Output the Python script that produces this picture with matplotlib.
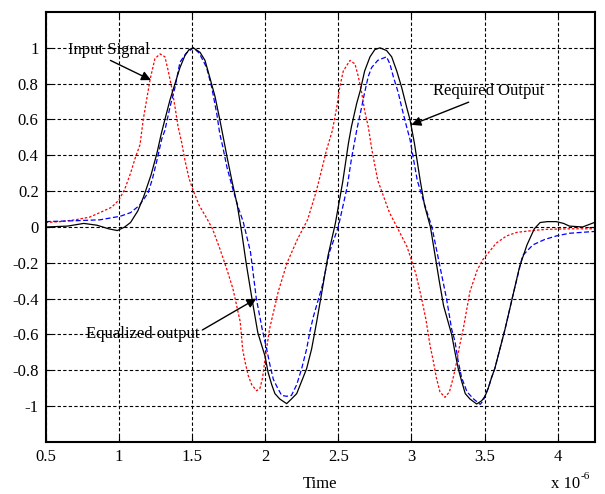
import matplotlib
matplotlib.use("Agg")
import matplotlib.pyplot as plt

# time axis in units of 1e-6 s
red_t = [0.5, 0.6, 0.7, 0.8, 0.87, 0.95, 1.0, 1.04, 1.08, 1.11, 1.145, 1.167, 1.19, 1.213,
         1.224, 1.247, 1.282, 1.315, 1.338, 1.361, 1.384, 1.405, 1.43, 1.45, 1.48, 1.51, 1.55,
         1.60, 1.64, 1.69, 1.74, 1.78, 1.83, 1.846, 1.862, 1.885, 1.908, 1.942, 1.965, 1.983,
         1.994, 2.01, 2.03, 2.09, 2.15, 2.22, 2.29, 2.35, 2.42, 2.46, 2.49, 2.51, 2.534, 2.58,
         2.614, 2.637, 2.66, 2.68, 2.705, 2.73, 2.77, 2.85, 2.92, 2.97, 3.03, 3.07, 3.10, 3.127,
         3.15, 3.17, 3.195, 3.229, 3.26, 3.286, 3.31, 3.33, 3.354, 3.40, 3.45, 3.49, 3.58, 3.65,
         3.72, 3.85, 3.93, 4.1, 4.25]
red_v = [0.025, 0.03, 0.04, 0.055, 0.08, 0.11, 0.15, 0.21, 0.30, 0.38, 0.46, 0.60, 0.71, 0.82,
         0.86, 0.94, 0.966, 0.95, 0.87, 0.78, 0.67, 0.56, 0.47, 0.38, 0.27, 0.2, 0.12,
         0.05, -0.01, -0.12, -0.24, -0.345, -0.53, -0.68, -0.75, -0.83, -0.88, -0.914, -0.90, -0.84,
         -0.77, -0.68, -0.57, -0.36, -0.2, -0.07, 0.04, 0.20, 0.43, 0.54, 0.67, 0.78, 0.87, 0.93,
         0.91, 0.84, 0.75, 0.65, 0.56, 0.43, 0.26, 0.08, -0.03, -0.11, -0.26, -0.4, -0.52, -0.66,
         -0.75, -0.84, -0.92, -0.951, -0.92, -0.84, -0.75, -0.66, -0.57, -0.36, -0.24, -0.18, -0.09, -0.05,
         -0.03, -0.018, -0.013, -0.01, -0.01]

black_t = [0.5, 0.65, 0.76, 0.85, 0.93, 0.99, 1.04, 1.08, 1.13, 1.17, 1.22, 1.26, 1.29, 1.315,
           1.35, 1.384, 1.418, 1.452, 1.48, 1.509, 1.555, 1.589, 1.62, 1.657, 1.69, 1.714, 1.74,
           1.775, 1.81, 1.84, 1.87, 1.91, 1.95, 1.999, 2.02, 2.045, 2.067, 2.10, 2.147, 2.18,
           2.216, 2.25, 2.284, 2.318, 2.35, 2.38, 2.43, 2.48, 2.53, 2.57, 2.59, 2.626, 2.65,
           2.68, 2.717, 2.75, 2.785, 2.83, 2.865, 2.90, 2.933, 2.967, 2.99, 3.02, 3.06, 3.09,
           3.13, 3.16, 3.19, 3.22, 3.275, 3.298, 3.32, 3.343, 3.368, 3.40, 3.446, 3.48, 3.503,
           3.525, 3.548, 3.57, 3.605, 3.64, 3.70, 3.74, 3.79, 3.84, 3.88, 3.93, 3.99, 4.04,
           4.08, 4.17, 4.25]
black_v = [0.0, 0.005, 0.02, 0.01, -0.01, -0.02, 0.0, 0.025, 0.09, 0.17, 0.29, 0.41, 0.52, 0.60,
           0.71, 0.80, 0.89, 0.957, 0.99, 1.0, 0.975, 0.93, 0.84, 0.73, 0.60, 0.50, 0.39,
           0.25, 0.12, -0.03, -0.2, -0.40, -0.59, -0.72, -0.81, -0.88, -0.93, -0.96, -0.986, -0.96,
           -0.93, -0.86, -0.79, -0.68, -0.54, -0.40, -0.16, 0.02, 0.25, 0.47, 0.56, 0.69, 0.76,
           0.87, 0.95, 0.99, 1.0, 0.985, 0.95, 0.87, 0.78, 0.67, 0.60, 0.47, 0.26, 0.12,
           0.0, -0.15, -0.3, -0.44, -0.60, -0.70, -0.79, -0.86, -0.93, -0.96, -0.988, -0.97, -0.945,
           -0.90, -0.84, -0.79, -0.68, -0.57, -0.36, -0.22, -0.1, -0.01, 0.025, 0.03, 0.03, 0.02,
           0.005, 0.0, 0.025]

blue_t = [0.5, 0.7, 0.87, 1.01, 1.08, 1.14, 1.20, 1.23, 1.26, 1.293, 1.315, 1.35, 1.384, 1.418,
          1.46, 1.51, 1.55, 1.60, 1.635, 1.67, 1.69, 1.71, 1.74, 1.78, 1.82, 1.85, 1.90, 1.94,
          1.98, 2.01, 2.033, 2.056, 2.08, 2.113, 2.147, 2.18, 2.216, 2.25, 2.284, 2.307, 2.33,
          2.39, 2.44, 2.50, 2.56, 2.59, 2.626, 2.66, 2.68, 2.705, 2.728, 2.77, 2.83, 2.853, 2.876,
          2.91, 2.933, 2.967, 2.99, 3.04, 3.10, 3.14, 3.17, 3.24, 3.275, 3.298, 3.32, 3.343,
          3.38, 3.425, 3.47, 3.49, 3.525, 3.548, 3.57, 3.605, 3.64, 3.70, 3.76, 3.83, 3.91,
          3.99, 4.08, 4.25]
blue_v = [0.03, 0.035, 0.04, 0.06, 0.08, 0.12, 0.19, 0.27, 0.37, 0.49, 0.54, 0.67, 0.78, 0.92,
          0.97, 1.0, 0.97, 0.89, 0.78, 0.63, 0.52, 0.45, 0.33, 0.21, 0.1, 0.03, -0.14, -0.40,
          -0.57, -0.68, -0.77, -0.85, -0.89, -0.94, -0.945, -0.94, -0.88, -0.79, -0.68, -0.58, -0.50,
          -0.33, -0.14, 0.0, 0.22, 0.38, 0.54, 0.67, 0.75, 0.84, 0.89, 0.93, 0.95, 0.91, 0.84,
          0.75, 0.67, 0.56, 0.49, 0.26, 0.1, 0.0, -0.12, -0.40, -0.57, -0.64, -0.75, -0.84,
          -0.92, -0.96, -0.99, -0.97, -0.90, -0.84, -0.79, -0.68, -0.57, -0.36, -0.16, -0.1, -0.07,
          -0.05, -0.035, -0.025]

x_ticks = [0.5, 1, 1.5, 2, 2.5, 3, 3.5, 4]
y_ticks = [-1, -0.8, -0.6, -0.4, -0.2, 0, 0.2, 0.4, 0.6, 0.8, 1]

plt.rcParams['font.family'] = ['Liberation Serif', 'DejaVu Serif']
plt.rcParams['axes.unicode_minus'] = False

fig = plt.figure(figsize=(6.05, 4.94), dpi=100)
ax = fig.add_axes([0.0755, 0.1053, 0.908, 0.8704])

ax.plot(red_t, red_v, color='red', linestyle=(0, (2, 1.5)), linewidth=0.9)
ax.plot(blue_t, blue_v, color='blue', linestyle=(0, (4, 2)), linewidth=0.9)
ax.plot(black_t, black_v, color='black', linestyle='-', linewidth=0.9)

ax.set_xlim(0.5, 4.255)
ax.set_ylim(-1.2, 1.2)
ax.set_xticks(x_ticks)
ax.set_yticks(y_ticks)
ax.set_xticklabels(['%g' % v for v in x_ticks])
ax.set_yticklabels(['%g' % v for v in y_ticks])
ax.tick_params(direction='in', top=True, right=True, length=4, labelsize=12, pad=5)
ax.grid(True, color='black', linestyle=(0, (3, 2)), linewidth=0.8)
for s in ax.spines.values():
    s.set_linewidth(1.5)

ax.set_xlabel('Time', fontsize=12, labelpad=8)
# "x 10^-6" multiplier under the right end of the x axis
fig.text(580 / 605, 1 - 488 / 494, 'x 10', ha='right', va='baseline', fontsize=12)
fig.text(581 / 605, 1 - 479 / 494, '-6', ha='left', va='baseline', fontsize=8)

arrow = dict(arrowstyle='-|>', color='black', lw=1, mutation_scale=14)
ax.annotate('Input Signal', xy=(1.22, 0.82), xytext=(0.652, 0.99), fontsize=12,
            va='center', ha='left', arrowprops=dict(arrow, shrinkA=0, shrinkB=0, relpos=(0.45, 0.0)))
ax.annotate('Required Output', xy=(3.0, 0.57), xytext=(3.15, 0.757), fontsize=12,
            va='center', ha='left', arrowprops=dict(arrow, shrinkA=0, shrinkB=0, relpos=(0.38, 0.0)))
ax.annotate('Equalized output', xy=(1.94, -0.40), xytext=(0.776, -0.595), fontsize=12,
            va='center', ha='left', arrowprops=dict(arrow, shrinkA=0, shrinkB=0, relpos=(0.97, 0.5)))

fig.savefig('out.png', dpi=100)
